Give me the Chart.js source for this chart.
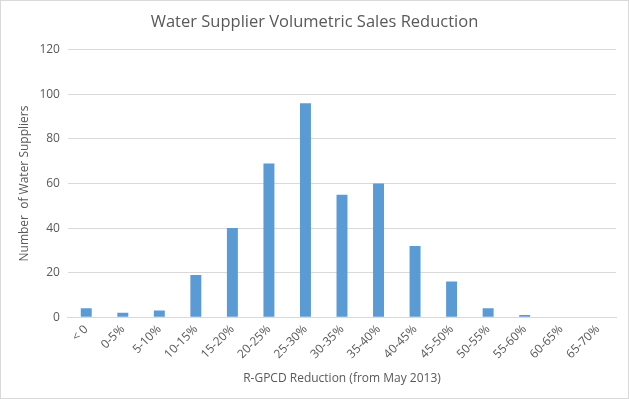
<!DOCTYPE html>
<html>
<head>
<meta charset="utf-8">
<script src="https://cdn.jsdelivr.net/npm/chart.js@4"></script>
<style>
    html, body { margin: 0; padding: 0; background: #fff; }
    #wrap { width: 627px; height: 397px; border: 1px solid #d9d9d9; position: relative; }
</style>
</head>
<body>
<div id="wrap"><canvas id="salesChart"></canvas></div>
<script>
// DATA
const categories = ['< 0', '0-5%', '5-10%', '10-15%', '15-20%', '20-25%', '25-30%', '30-35%',
    '35-40%', '40-45%', '45-50%', '50-55%', '55-60%', '60-65%', '65-70%'];
const supplierCounts = [4, 2, 3, 19, 40, 69, 96, 55, 60, 32, 16, 4, 1, 0, 0];
const yTicks = [0, 20, 40, 60, 80, 100, 120];

const textColor = '#595959';
const gridColor = '#d9d9d9';
const fontFamily = "'Open Sans', 'Liberation Sans', sans-serif";

const ctx = document.getElementById('salesChart').getContext('2d');
new Chart(ctx, {
    type: 'bar',
    data: {
        labels: categories,
        datasets: [{
            label: 'Water Suppliers',
            data: supplierCounts,
            backgroundColor: '#5b9bd5',
            borderWidth: 0,
            categoryPercentage: 1,
            barPercentage: 0.3
        }]
    },
    options: {
        responsive: true,
        maintainAspectRatio: false,
        animation: false,
        layout: { padding: { left: 12, right: 12, top: 8, bottom: 8 } },
        plugins: {
            legend: { display: false },
            tooltip: { enabled: false },
            title: {
                display: true,
                text: 'Water Supplier Volumetric Sales Reduction',
                color: textColor,
                font: { family: fontFamily, size: 16.5, weight: 'normal' },
                padding: { top: 3, bottom: 18 }
            }
        },
        scales: {
            x: {
                grid: { display: false, drawTicks: false },
                border: { color: gridColor },
                ticks: {
                    color: textColor,
                    font: { family: fontFamily, size: 12 },
                    minRotation: 45,
                    maxRotation: 45,
                    padding: 5
                },
                title: {
                    display: true,
                    text: 'R-GPCD Reduction (from May 2013)',
                    color: textColor,
                    font: { family: fontFamily, size: 12 },
                    padding: { top: 5 }
                }
            },
            y: {
                min: 0,
                max: 120,
                afterBuildTicks: axis => { axis.ticks = yTicks.map(v => ({ value: v })); },
                grid: { color: gridColor, drawTicks: false },
                border: { display: false },
                ticks: {
                    color: textColor,
                    font: { family: fontFamily, size: 12 },
                    padding: 8
                },
                title: {
                    display: true,
                    text: 'Number  of Water Suppliers',
                    color: textColor,
                    font: { family: fontFamily, size: 12 },
                    padding: { bottom: 0 }
                }
            }
        }
    }
});
</script>
</body>
</html>
